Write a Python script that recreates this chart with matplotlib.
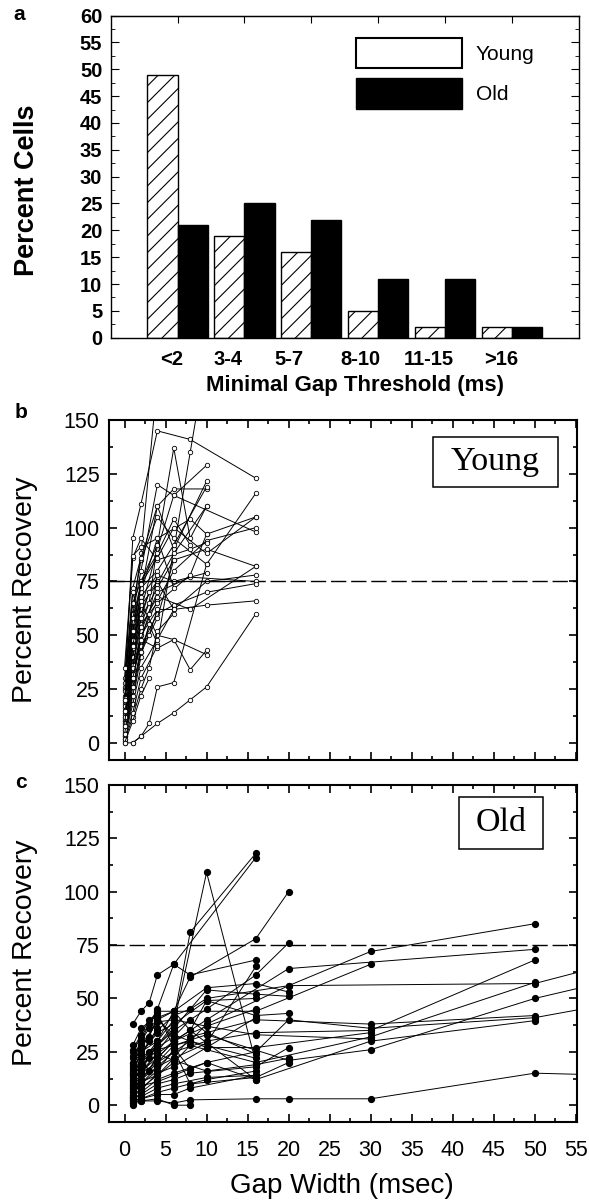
import matplotlib
matplotlib.use('Agg')
import matplotlib.pyplot as plt
import numpy as np
from matplotlib.patches import Patch, Rectangle
from matplotlib.ticker import MultipleLocator

plt.rcParams['font.family'] = ['Liberation Sans', 'DejaVu Sans']
plt.rcParams['hatch.linewidth'] = 0.8

# panel a: distribution of minimal gap thresholds
categories = ['<2', '3-4', '5-7', '8-10', '11-15', '>16']
young_pct = [49, 19, 16, 5, 2, 2]
old_pct = [21, 25, 22, 11, 11, 2]
label_pos = [0.915, 1.76, 2.67, 3.74, 4.76, 5.83]

# panel b: young recovery functions (gap ms, % recovery)
young_series = [
    ([0, 1, 2, 4, 6, 8, 10, 16], [0, 0, 3, 9, 14, 20, 26, 60]),
    ([1, 2, 3, 4, 6, 10], [0, 3, 9, 26, 28, 83]),
    ([0, 1, 2, 4, 8, 16], [22, 95, 111, 145, 141, 123]),
    ([0, 1, 2, 4], [8, 60, 88, 168]),
    ([0, 1, 2, 4, 6, 10], [12, 45, 70, 110, 118, 118]),
    ([0, 1, 2, 4, 6, 16], [10, 38, 62, 90, 115, 98]),
    ([0, 1, 2, 3, 4, 6, 8, 10], [3, 20, 40, 55, 46, 90, 135, 180]),
    ([0, 1, 2, 4, 6, 8, 10], [18, 50, 75, 92, 137, 95, 110]),
    ([0, 1, 2, 4, 6, 10, 16], [25, 62, 85, 105, 95, 83, 116]),
    ([0, 1, 2, 4, 8, 10, 16], [15, 48, 70, 95, 104, 97, 105]),
    ([0, 1, 2, 4, 6, 10, 16], [6, 28, 50, 66, 80, 94, 100]),
    ([0, 1, 2, 4, 6, 10, 16], [14, 42, 58, 72, 85, 90, 82]),
    ([0, 1, 2, 4, 8, 16], [9, 30, 52, 70, 77, 75]),
    ([0, 1, 2, 4, 6, 10, 16], [2, 18, 35, 48, 62, 75, 78]),
    ([0, 1, 2, 4, 6, 10, 16], [4, 24, 45, 60, 64, 70, 74]),
    ([0, 1, 2, 4, 6, 10, 16], [7, 34, 50, 62, 62, 64, 66]),
    ([0, 1, 2, 4, 6, 8, 10], [10, 40, 65, 50, 48, 34, 43]),
    ([0, 1, 2, 4, 6, 10], [5, 30, 48, 44, 48, 41]),
    ([0, 1, 2, 4, 6, 10], [20, 60, 80, 120, 115, 129]),
    ([0, 1, 2, 4, 6, 10], [26, 72, 86, 110, 90, 121.6]),
    ([0, 1, 2, 4, 8, 10], [30, 86, 95, 85, 90, 93]),
    ([0, 1, 2, 4, 6, 10], [16, 52, 68, 78, 75, 79]),
    ([0, 1, 2, 3, 4, 6], [1, 12, 25, 35, 52, 60]),
    ([0, 1, 2, 4, 6], [3, 22, 42, 58, 85]),
    ([0, 1, 2, 3, 4], [11, 40, 55, 65, 92]),
    ([0, 1, 2, 4, 6, 8], [28, 65, 75, 88, 104, 92]),
    ([0, 1, 2, 4, 6, 10], [19, 56, 72, 80, 92, 119]),
    ([0, 1, 2, 4, 6, 10], [13, 44, 64, 74, 88, 110]),
    ([0, 1, 2, 4, 8, 10], [24, 70, 55, 65, 78, 97]),
    ([0, 1, 2, 3, 4], [6, 32, 45, 50, 62]),
    ([0, 1, 2, 4, 6], [35, 87, 91, 95, 72]),
    ([0, 1, 2, 4], [2, 14, 30, 45]),
    ([0, 1, 2, 3, 4, 6], [17, 48, 60, 70, 75, 62]),
    ([0, 1, 2, 4, 8, 16], [9, 36, 54, 68, 62, 82]),
    ([0, 1, 2, 4, 6, 10, 16], [21, 58, 74, 86, 100, 88, 105]),
    ([0, 1, 2, 3], [4, 26, 42, 55]),
    ([0, 1, 2, 3], [12, 35, 58, 70]),
    ([0, 1, 2], [8, 45, 66]),
    ([0, 1, 2, 3, 4], [15, 30, 48, 60, 78]),
    ([0, 1, 2], [20, 52, 74]),
    ([0, 1, 2, 3], [0, 10, 22, 30]),
]

# panel c: old recovery functions
old_series = [
    ([1, 2, 4, 6, 8, 16, 20, 30, 50, 60], [3, 2, 2, 1, 2.5, 3, 3, 3, 15, 14]),
    ([1, 2, 4, 6, 8, 16], [15, 25, 30, 40, 81, 118]),
    ([1, 2, 4, 6, 10, 16], [10, 18, 28, 38, 109, 20]),
    ([1, 2, 3, 4, 6, 16], [22, 30, 38, 45, 66, 116]),
    ([1, 2, 3, 4, 6, 8, 16], [38, 44, 48, 61, 66, 61, 68]),
    ([1, 2, 4, 6, 8, 16, 20], [12, 20, 30, 44, 60, 78, 100]),
    ([1, 2, 4, 6, 10, 16, 20], [8, 14, 25, 35, 45, 61, 76]),
    ([1, 2, 4, 6, 8, 10, 20, 30, 50], [16, 24, 35, 42, 45, 50, 56, 72, 85]),
    ([1, 2, 4, 6, 10, 20, 50], [5, 12, 22, 30, 40, 64, 73]),
    ([1, 2, 4, 8, 10, 20, 50, 60], [14, 18, 26, 30, 38, 56, 57, 67]),
    ([1, 2, 3, 4, 6, 16, 30], [18, 28, 32, 41, 44, 44, 66]),
    ([1, 2, 4, 6, 10, 16, 30, 50], [6, 10, 18, 25, 30, 34, 35, 68]),
    ([1, 2, 4, 6, 8, 16, 30, 50], [4, 8, 14, 20, 28, 20, 32, 57.5]),
    ([1, 2, 4, 6, 10, 20, 30, 50, 60], [9, 15, 20, 28, 33, 21, 26, 50, 59]),
    ([1, 2, 4, 6, 8, 16, 30, 50], [7, 12, 18, 22, 32, 40, 38, 42]),
    ([1, 2, 4, 6, 10, 16, 20, 30, 50, 60], [2, 6, 12, 15, 20, 25, 40, 36, 41, 48]),
    ([1, 2, 4, 6, 8, 16, 30, 50], [11, 16, 22, 30, 35, 12, 30, 39.6]),
    ([1, 2, 4, 6, 10, 16, 20], [20, 26, 40, 44, 55, 57, 53]),
    ([1, 2, 4, 6, 10, 16, 20], [13, 22, 28, 36, 54, 52, 51]),
    ([1, 2, 4, 6, 10, 16, 20], [17, 24, 34, 38, 49, 42, 43]),
    ([1, 2, 4, 6, 8, 10, 16], [25, 32, 44, 44, 35, 49, 50]),
    ([1, 2, 4, 6, 10, 16], [28, 36, 42, 30, 37, 45]),
    ([1, 2, 4, 6, 8, 16, 20], [3, 5, 10, 12, 15, 18, 27]),
    ([1, 2, 4, 6, 10, 16], [1, 4, 8, 10, 13, 14]),
    ([1, 2, 4, 6, 10, 16], [0, 3, 6, 8, 12, 16]),
    ([1, 2, 4, 6, 8, 16, 20], [5, 10, 16, 26, 10, 13, 20]),
    ([1, 2, 3, 4, 6, 10, 16], [19, 30, 36, 40, 33, 27, 41]),
    ([1, 2, 4, 6, 10, 16, 30], [23, 28, 39, 40, 37, 33, 31]),
    ([1, 2, 4, 6, 8, 16], [8, 12, 20, 25, 30, 22]),
    ([1, 2, 4, 6, 10, 16, 20], [12, 16, 24, 21, 16, 19, 22]),
    ([1, 2, 4, 6, 8, 10, 16], [6, 9, 11, 14, 17, 20, 12]),
    ([1, 2, 4, 6, 8, 16], [2, 3, 5, 5, 8, 14]),
    ([1, 2, 4, 6, 10, 16, 30], [4, 7, 15, 18, 27, 27, 34]),
    ([1, 2, 3, 4, 6, 8], [26, 33, 40, 43, 27, 17]),
    ([1, 2, 4, 6, 10, 16], [9, 11, 14, 22, 29, 65]),
    ([1, 2, 4, 6, 8], [1, 2, 3, 0, 0]),
    ([1, 2, 4, 6, 8, 10, 16], [15, 20, 27, 32, 40, 34, 24]),
    ([1, 2, 3, 4], [10, 18, 22, 30]),
    ([1, 2, 3, 4, 6], [4, 12, 25, 28, 35]),
    ([1, 2, 3, 4], [20, 24, 30, 36]),
    ([1, 2, 3, 4, 6], [14, 22, 16, 24, 30]),
]

criterion = 75

fig = plt.figure(figsize=(5.89, 12.03), dpi=100)

# ---- a ----
ax1 = fig.add_axes([0.1878, 0.7193, 0.7953, 0.2677])
xg = np.arange(1, len(categories) + 1)
w = 0.45
ax1.bar(xg - w / 2, young_pct, w, facecolor='white', edgecolor='black',
        hatch='//', lw=1.0)
ax1.bar(xg + w / 2, old_pct, w, color='black', edgecolor='black')
ax1.set_xlim(0, 7)
ax1.set_ylim(0, 60)
ax1.yaxis.set_major_locator(MultipleLocator(5))
ax1.yaxis.set_minor_locator(MultipleLocator(2.5))
ax1.tick_params(axis='y', which='both', direction='in', left=True, right=True,
                labelsize=14.5, pad=6)
ax1.tick_params(axis='y', which='major', length=6)
ax1.tick_params(axis='y', which='minor', length=3)
ax1.set_xticks(label_pos, categories)
ax1.tick_params(axis='x', length=0, labelsize=14.5, pad=9)
plt.setp(ax1.get_yticklabels(), fontweight='bold')
plt.setp(ax1.get_xticklabels(), fontweight='bold')
top = ax1.secondary_xaxis('top')
top.set_xticks(xg)
top.tick_params(direction='in', length=5, labeltop=False)
for s in ax1.spines.values():
    s.set_linewidth(1.0)
ax1.set_ylabel('Percent Cells', fontsize=19.5, fontweight='bold')
ax1.yaxis.set_label_coords(-0.15, 0.459)
ax1.set_xlabel('Minimal Gap Threshold (ms)', fontsize=16, fontweight='bold')
ax1.xaxis.set_label_coords(0.521, -0.115)
handles = [Patch(facecolor='white', edgecolor='black', lw=1.5, label='Young'),
           Patch(facecolor='black', edgecolor='black', label='Old')]
ax1.legend(handles=handles, loc='upper left', bbox_to_anchor=(0.524, 0.931),
           frameon=False, fontsize=15, handlelength=5.1, handleheight=1.85,
           handletextpad=0.65, labelspacing=0.5, borderpad=0, borderaxespad=0)


def recovery_axes(rect):
    ax = fig.add_axes(rect)
    ax.set_xlim(-1.85, 55.2)
    ax.set_ylim(-8, 150)
    ax.xaxis.set_major_locator(MultipleLocator(5))
    ax.xaxis.set_minor_locator(MultipleLocator(2.5))
    ax.yaxis.set_major_locator(MultipleLocator(25))
    ax.yaxis.set_minor_locator(MultipleLocator(12.5))
    ax.tick_params(which='both', direction='in', top=True, right=True,
                   labelsize=15.5, width=1.2)
    ax.tick_params(which='major', length=6)
    ax.tick_params(which='minor', length=3)
    ax.tick_params(axis='y', pad=7)
    ax.tick_params(axis='x', pad=13)
    for s in ax.spines.values():
        s.set_linewidth(1.5)
    ax.axhline(criterion, color='black', lw=1.0, ls=(0, (11, 3.5)))
    ax.set_ylabel('Percent Recovery', fontsize=20.5)
    return ax


# ---- b ----
ax2 = recovery_axes([0.1857, 0.3682, 0.7946, 0.2826])
for xs, ys in young_series:
    ax2.plot(xs, ys, '-o', color='black', lw=0.7, ms=3.2, mfc='white',
             mec='black', mew=0.6)
ax2.hlines(criterion, -1.85, 13.5, color='black', lw=0.9)
ax2.tick_params(axis='x', labelbottom=False)
ax2.yaxis.set_label_coords(-0.1526, 0.5)
ax2.add_patch(Rectangle((0.6915, 0.803), 0.267, 0.147, transform=ax2.transAxes,
                        fill=False, ec='black', lw=1.1))
ax2.text(0.825, 0.876, 'Young', transform=ax2.transAxes, ha='center',
         va='center', fontsize=24.5, family='Liberation Serif')

# ---- c ----
ax3 = recovery_axes([0.1857, 0.0671, 0.7946, 0.2804])
for xs, ys in old_series:
    ax3.plot(xs, ys, '-o', color='black', lw=0.7, ms=4.2, mfc='black',
             mec='black')
ax3.yaxis.set_label_coords(-0.1526, 0.502)
ax3.set_xlabel('Gap Width (msec)', fontsize=20)
ax3.xaxis.set_label_coords(0.497, -0.15)
ax3.add_patch(Rectangle((0.746, 0.809), 0.181, 0.155, transform=ax3.transAxes,
                        fill=False, ec='black', lw=1.1))
ax3.text(0.8365, 0.887, 'Old', transform=ax3.transAxes, ha='center',
         va='center', fontsize=24.5, family='Liberation Serif')

# panel letters
fig.text(19 / 589, 1 - 15 / 1203, 'a', ha='center', va='center',
         fontsize=15, fontweight='bold')
fig.text(21 / 589, 1 - 412 / 1203, 'b', ha='center', va='center',
         fontsize=15, fontweight='bold')
fig.text(21 / 589, 1 - 783 / 1203, 'c', ha='center', va='center',
         fontsize=15, fontweight='bold')

fig.savefig('out.png', dpi=100)
